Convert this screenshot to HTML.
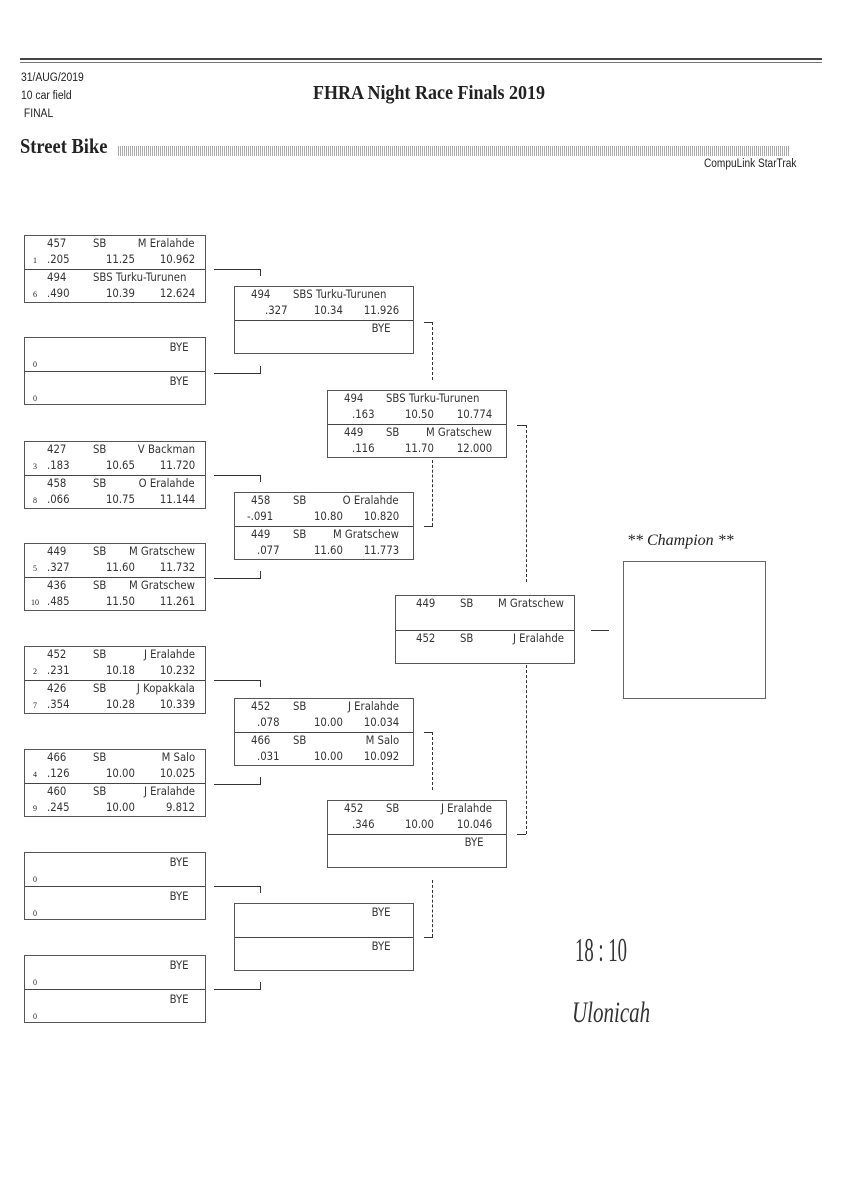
<!DOCTYPE html>
<html><head><meta charset="utf-8"><style>
*{margin:0;padding:0;box-sizing:border-box}
body{width:848px;height:1200px;background:#fff;position:relative;overflow:hidden;font-family:"Liberation Sans",sans-serif;color:#222}
.a{position:absolute}
.bx{position:absolute;border:1px solid #555;height:68px}
.bx .m{position:absolute;left:0;right:0;top:33px;border-top:1px solid #444}
.t{position:absolute;font-family:"DejaVu Sans",sans-serif;font-size:11.5px;line-height:14px;white-space:nowrap;transform:scaleX(0.88);transform-origin:left;color:#333}
.r{transform-origin:right}
.sd{position:absolute;font-family:"Liberation Serif",serif;font-size:8px}
.h{position:absolute;border-top:1px solid #333}
.v{position:absolute;border-left:1px solid #333}
.d{position:absolute;border-left:1px dashed #333}
</style></head><body>
<div class="a" style="left:20px;top:58px;width:802px;border-top:2px solid #444"></div>
<div class="a" style="left:20px;top:62px;width:802px;border-top:1px solid #777"></div>
<div class="a" style="left:21px;top:69px;font-size:11.5px;line-height:18px;transform:scaleX(0.9);transform-origin:left">31/AUG/2019<br>10 car field<br>&nbsp;FINAL</div>
<div class="a" style="left:313px;top:82px;font-family:'Liberation Serif',serif;font-weight:bold;font-size:20px;transform:scaleX(0.9);transform-origin:left">FHRA Night Race Finals 2019</div>
<div class="a" style="left:20px;top:134px;font-family:'Liberation Serif',serif;font-weight:bold;font-size:21px;transform:scaleX(0.88);transform-origin:left">Street Bike</div>
<div class="a" style="left:118px;top:146px;width:672px;height:10px;background:repeating-linear-gradient(90deg,#aaa 0 1px,#fff 1px 2px)"></div>
<div class="a" style="left:704px;top:158px;font-size:11.5px;transform:scaleX(0.88);transform-origin:left">CompuLink StarTrak</div>

<!-- Round 1 -->
<div class="bx" style="left:24px;top:235px;width:182px"><div class="m"></div>
<span class="t" style="left:22px;top:0px">457</span><span class="t" style="left:68px;top:0px">SB</span><span class="t r" style="right:10px;top:0px">M Eralahde</span>
<span class="sd" style="left:8px;top:20px">1</span><span class="t" style="left:22px;top:16px">.205</span><span class="t r" style="right:70px;top:16px">11.25</span><span class="t r" style="right:10px;top:16px">10.962</span>
<span class="t" style="left:22px;top:34px">494</span><span class="t" style="left:68px;top:34px">SBS Turku-Turunen</span>
<span class="sd" style="left:8px;top:54px">6</span><span class="t" style="left:22px;top:50px">.490</span><span class="t r" style="right:70px;top:50px">10.39</span><span class="t r" style="right:10px;top:50px">12.624</span></div>

<div class="bx" style="left:24px;top:337px;width:182px"><div class="m"></div>
<span class="t r" style="right:16px;top:2px">BYE</span><span class="sd" style="left:8px;top:22px">0</span>
<span class="t r" style="right:16px;top:36px">BYE</span><span class="sd" style="left:8px;top:56px">0</span></div>

<div class="bx" style="left:24px;top:441px;width:182px"><div class="m"></div>
<span class="t" style="left:22px;top:0px">427</span><span class="t" style="left:68px;top:0px">SB</span><span class="t r" style="right:10px;top:0px">V Backman</span>
<span class="sd" style="left:8px;top:20px">3</span><span class="t" style="left:22px;top:16px">.183</span><span class="t r" style="right:70px;top:16px">10.65</span><span class="t r" style="right:10px;top:16px">11.720</span>
<span class="t" style="left:22px;top:34px">458</span><span class="t" style="left:68px;top:34px">SB</span><span class="t r" style="right:10px;top:34px">O Eralahde</span>
<span class="sd" style="left:8px;top:54px">8</span><span class="t" style="left:22px;top:50px">.066</span><span class="t r" style="right:70px;top:50px">10.75</span><span class="t r" style="right:10px;top:50px">11.144</span></div>

<div class="bx" style="left:24px;top:543px;width:182px"><div class="m"></div>
<span class="t" style="left:22px;top:0px">449</span><span class="t" style="left:68px;top:0px">SB</span><span class="t r" style="right:10px;top:0px">M Gratschew</span>
<span class="sd" style="left:8px;top:20px">5</span><span class="t" style="left:22px;top:16px">.327</span><span class="t r" style="right:70px;top:16px">11.60</span><span class="t r" style="right:10px;top:16px">11.732</span>
<span class="t" style="left:22px;top:34px">436</span><span class="t" style="left:68px;top:34px">SB</span><span class="t r" style="right:10px;top:34px">M Gratschew</span>
<span class="sd" style="left:6px;top:54px">10</span><span class="t" style="left:22px;top:50px">.485</span><span class="t r" style="right:70px;top:50px">11.50</span><span class="t r" style="right:10px;top:50px">11.261</span></div>

<div class="bx" style="left:24px;top:646px;width:182px"><div class="m"></div>
<span class="t" style="left:22px;top:0px">452</span><span class="t" style="left:68px;top:0px">SB</span><span class="t r" style="right:10px;top:0px">J Eralahde</span>
<span class="sd" style="left:8px;top:20px">2</span><span class="t" style="left:22px;top:16px">.231</span><span class="t r" style="right:70px;top:16px">10.18</span><span class="t r" style="right:10px;top:16px">10.232</span>
<span class="t" style="left:22px;top:34px">426</span><span class="t" style="left:68px;top:34px">SB</span><span class="t r" style="right:10px;top:34px">J Kopakkala</span>
<span class="sd" style="left:8px;top:54px">7</span><span class="t" style="left:22px;top:50px">.354</span><span class="t r" style="right:70px;top:50px">10.28</span><span class="t r" style="right:10px;top:50px">10.339</span></div>

<div class="bx" style="left:24px;top:749px;width:182px"><div class="m"></div>
<span class="t" style="left:22px;top:0px">466</span><span class="t" style="left:68px;top:0px">SB</span><span class="t r" style="right:10px;top:0px">M Salo</span>
<span class="sd" style="left:8px;top:20px">4</span><span class="t" style="left:22px;top:16px">.126</span><span class="t r" style="right:70px;top:16px">10.00</span><span class="t r" style="right:10px;top:16px">10.025</span>
<span class="t" style="left:22px;top:34px">460</span><span class="t" style="left:68px;top:34px">SB</span><span class="t r" style="right:10px;top:34px">J Eralahde</span>
<span class="sd" style="left:8px;top:54px">9</span><span class="t" style="left:22px;top:50px">.245</span><span class="t r" style="right:70px;top:50px">10.00</span><span class="t r" style="right:10px;top:50px">9.812</span></div>

<div class="bx" style="left:24px;top:852px;width:182px"><div class="m"></div>
<span class="t r" style="right:16px;top:2px">BYE</span><span class="sd" style="left:8px;top:22px">0</span>
<span class="t r" style="right:16px;top:36px">BYE</span><span class="sd" style="left:8px;top:56px">0</span></div>
<div class="bx" style="left:24px;top:955px;width:182px"><div class="m"></div>
<span class="t r" style="right:16px;top:2px">BYE</span><span class="sd" style="left:8px;top:22px">0</span>
<span class="t r" style="right:16px;top:36px">BYE</span><span class="sd" style="left:8px;top:56px">0</span></div>

<!-- R1 connectors -->
<div class="h" style="left:214px;top:269px;width:47px"></div><div class="v" style="left:260px;top:269px;height:7px"></div>
<div class="h" style="left:214px;top:373px;width:47px"></div><div class="v" style="left:260px;top:366px;height:7px"></div>
<div class="h" style="left:214px;top:475px;width:47px"></div><div class="v" style="left:260px;top:475px;height:7px"></div>
<div class="h" style="left:214px;top:578px;width:47px"></div><div class="v" style="left:260px;top:571px;height:7px"></div>
<div class="h" style="left:214px;top:680px;width:47px"></div><div class="v" style="left:260px;top:680px;height:7px"></div>
<div class="h" style="left:214px;top:784px;width:47px"></div><div class="v" style="left:260px;top:777px;height:7px"></div>
<div class="h" style="left:214px;top:886px;width:47px"></div><div class="v" style="left:260px;top:886px;height:7px"></div>
<div class="h" style="left:214px;top:989px;width:47px"></div><div class="v" style="left:260px;top:982px;height:7px"></div>

<!-- Round 2 -->
<div class="bx" style="left:234px;top:286px;width:180px"><div class="m"></div>
<span class="t" style="left:16px;top:0px">494</span><span class="t" style="left:58px;top:0px">SBS Turku-Turunen</span>
<span class="t" style="left:30px;top:16px">.327</span><span class="t r" style="right:70px;top:16px">10.34</span><span class="t r" style="right:14px;top:16px">11.926</span>
<span class="t r" style="right:22px;top:34px">BYE</span></div>
<div class="bx" style="left:234px;top:492px;width:180px"><div class="m"></div>
<span class="t" style="left:16px;top:0px">458</span><span class="t" style="left:58px;top:0px">SB</span><span class="t r" style="right:14px;top:0px">O Eralahde</span>
<span class="t" style="left:12px;top:16px">-.091</span><span class="t r" style="right:70px;top:16px">10.80</span><span class="t r" style="right:14px;top:16px">10.820</span>
<span class="t" style="left:16px;top:34px">449</span><span class="t" style="left:58px;top:34px">SB</span><span class="t r" style="right:14px;top:34px">M Gratschew</span>
<span class="t" style="left:22px;top:50px">.077</span><span class="t r" style="right:70px;top:50px">11.60</span><span class="t r" style="right:14px;top:50px">11.773</span></div>
<div class="bx" style="left:234px;top:698px;width:180px"><div class="m"></div>
<span class="t" style="left:16px;top:0px">452</span><span class="t" style="left:58px;top:0px">SB</span><span class="t r" style="right:14px;top:0px">J Eralahde</span>
<span class="t" style="left:22px;top:16px">.078</span><span class="t r" style="right:70px;top:16px">10.00</span><span class="t r" style="right:14px;top:16px">10.034</span>
<span class="t" style="left:16px;top:34px">466</span><span class="t" style="left:58px;top:34px">SB</span><span class="t r" style="right:14px;top:34px">M Salo</span>
<span class="t" style="left:22px;top:50px">.031</span><span class="t r" style="right:70px;top:50px">10.00</span><span class="t r" style="right:14px;top:50px">10.092</span></div>
<div class="bx" style="left:234px;top:903px;width:180px"><div class="m"></div>
<span class="t r" style="right:22px;top:1px">BYE</span><span class="t r" style="right:22px;top:35px">BYE</span></div>

<!-- R2 connectors -->
<div class="h" style="left:424px;top:322px;width:9px"></div><div class="d" style="left:432px;top:322px;height:58px"></div>
<div class="h" style="left:424px;top:526px;width:9px"></div><div class="d" style="left:432px;top:460px;height:66px"></div>
<div class="h" style="left:424px;top:732px;width:9px"></div><div class="d" style="left:432px;top:732px;height:58px"></div>
<div class="h" style="left:424px;top:937px;width:9px"></div><div class="d" style="left:432px;top:880px;height:57px"></div>

<!-- Round 3 -->
<div class="bx" style="left:327px;top:390px;width:180px"><div class="m"></div>
<span class="t" style="left:16px;top:0px">494</span><span class="t" style="left:58px;top:0px">SBS Turku-Turunen</span>
<span class="t" style="left:24px;top:16px">.163</span><span class="t r" style="right:72px;top:16px">10.50</span><span class="t r" style="right:14px;top:16px">10.774</span>
<span class="t" style="left:16px;top:34px">449</span><span class="t" style="left:58px;top:34px">SB</span><span class="t r" style="right:14px;top:34px">M Gratschew</span>
<span class="t" style="left:24px;top:50px">.116</span><span class="t r" style="right:72px;top:50px">11.70</span><span class="t r" style="right:14px;top:50px">12.000</span></div>
<div class="bx" style="left:327px;top:800px;width:180px"><div class="m"></div>
<span class="t" style="left:16px;top:0px">452</span><span class="t" style="left:58px;top:0px">SB</span><span class="t r" style="right:14px;top:0px">J Eralahde</span>
<span class="t" style="left:24px;top:16px">.346</span><span class="t r" style="right:72px;top:16px">10.00</span><span class="t r" style="right:14px;top:16px">10.046</span>
<span class="t r" style="right:22px;top:34px">BYE</span></div>

<div class="h" style="left:517px;top:425px;width:9px"></div><div class="d" style="left:526px;top:425px;height:157px"></div>
<div class="h" style="left:517px;top:834px;width:9px"></div><div class="d" style="left:526px;top:665px;height:169px"></div>

<!-- Final -->
<div class="bx" style="left:395px;top:595px;width:180px;height:69px"><div class="m" style="top:34px"></div>
<span class="t" style="left:20px;top:0px">449</span><span class="t" style="left:64px;top:0px">SB</span><span class="t r" style="right:10px;top:0px">M Gratschew</span>
<span class="t" style="left:20px;top:35px">452</span><span class="t" style="left:64px;top:35px">SB</span><span class="t r" style="right:10px;top:35px">J Eralahde</span></div>
<div class="h" style="left:591px;top:630px;width:18px"></div>

<div class="a" style="left:627px;top:532px;font-family:'Liberation Serif',serif;font-style:italic;font-size:16px">** Champion **</div>
<div class="a" style="left:623px;top:561px;width:143px;height:138px;border:1px solid #666"></div>

<div class="a" style="left:575px;top:932px;font-family:'Liberation Serif',serif;font-size:34px;transform:scaleX(0.55);transform-origin:left;color:#333">18 : 10</div>
<div class="a" style="left:572px;top:996px;font-family:'Liberation Serif',serif;font-style:italic;font-size:30px;transform:scaleX(0.7);transform-origin:left;color:#333">Ulonicah</div>
</body></html>
